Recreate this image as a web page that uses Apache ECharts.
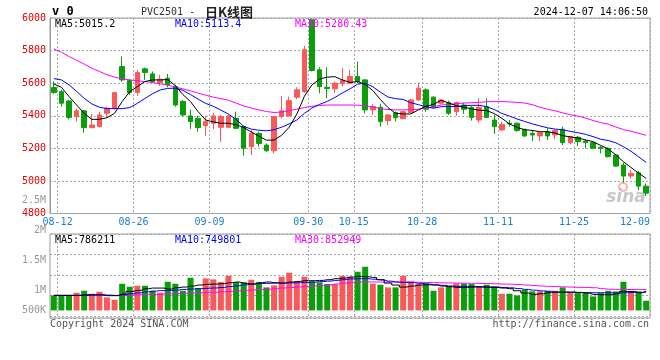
<!DOCTYPE html>
<html><head><meta charset="utf-8">
<script src="https://cdn.jsdelivr.net/npm/echarts@6/dist/echarts.min.js"></script>
<style>html,body{margin:0;padding:0;background:#fff}#c{width:660px;height:360px}</style>
</head><body><div id="c"></div>
<script>
// ---------- data ----------
const dates = ['08-12','08-13','08-14','08-15','08-16','08-19','08-20','08-21','08-22','08-23',
'08-26','08-27','08-28','08-29','08-30','09-02','09-03','09-04','09-05','09-06',
'09-09','09-10','09-11','09-12','09-13','09-18','09-19','09-20','09-23','09-24',
'09-25','09-26','09-27','09-30','10-08','10-09','10-10','10-11','10-14','10-15',
'10-16','10-17','10-18','10-21','10-22','10-23','10-24','10-25','10-28','10-29',
'10-30','10-31','11-01','11-04','11-05','11-06','11-07','11-08','11-11','11-12',
'11-13','11-14','11-15','11-18','11-19','11-20','11-21','11-22','11-25','11-26',
'11-27','11-28','11-29','12-02','12-03','12-04','12-05','12-06','12-09'];
const opens = [5573,5548,5491,5395,5430,5327,5333,5415,5446,5702,
5616,5542,5688,5657,5604,5630,5579,5487,5399,5384,
5339,5354,5329,5329,5384,5333,5210,5292,5220,5185,
5395,5399,5514,5548,5989,5682,5575,5565,5596,5600,
5641,5620,5436,5452,5370,5419,5382,5419,5497,5559,
5514,5477,5481,5425,5466,5450,5374,5456,5374,5313,
5354,5354,5317,5292,5276,5302,5282,5317,5235,5268,
5245,5235,5206,5200,5159,5097,5030,5050,4968];
const closes = [5542,5477,5390,5430,5327,5343,5405,5446,5542,5620,
5542,5665,5665,5610,5624,5590,5466,5405,5364,5327,
5364,5399,5395,5399,5323,5200,5292,5230,5185,5395,
5430,5493,5559,5805,5678,5579,5567,5600,5616,5641,
5610,5436,5456,5364,5405,5388,5425,5497,5569,5440,
5452,5497,5415,5481,5440,5390,5452,5390,5333,5347,
5350,5309,5276,5282,5296,5276,5309,5235,5272,5241,
5235,5200,5200,5149,5091,5030,5046,4968,4925];
const lows = [5534,5456,5378,5364,5296,5323,5329,5395,5436,5610,
5528,5522,5620,5600,5583,5575,5456,5395,5319,5302,
5276,5317,5241,5323,5317,5155,5159,5210,5179,5169,
5384,5395,5501,5542,5672,5538,5507,5540,5580,5594,
5600,5415,5405,5333,5343,5364,5378,5415,5491,5425,
5446,5470,5405,5399,5411,5370,5358,5384,5288,5306,
5333,5302,5270,5245,5245,5251,5255,5220,5225,5214,
5200,5195,5169,5144,5087,4984,5015,4943,4907];
const highs = [5610,5559,5495,5444,5436,5411,5425,5456,5546,5764,
5624,5682,5696,5672,5651,5657,5590,5497,5436,5399,
5399,5419,5405,5405,5425,5340,5313,5302,5230,5399,
5522,5518,5575,5829,5995,5698,5698,5610,5692,5682,
5733,5625,5473,5473,5411,5425,5431,5503,5604,5569,
5520,5501,5493,5487,5481,5460,5507,5507,5405,5364,
5374,5358,5321,5313,5300,5323,5317,5333,5276,5276,
5251,5241,5214,5206,5165,5112,5067,5060,4984];
const ma5 = [5595,5575,5518,5466,5415,5378,5378,5388,5415,5487,
5548,5579,5610,5620,5620,5622,5585,5530,5487,5425,
5374,5362,5354,5354,5345,5328,5300,5275,5250,5251,
5280,5330,5410,5520,5590,5625,5637,5640,5620,5605,
5610,5592,5555,5500,5450,5415,5411,5411,5436,5458,
5470,5495,5478,5462,5452,5442,5434,5432,5413,5384,
5350,5328,5314,5310,5302,5302,5294,5278,5270,5264,
5252,5241,5218,5196,5160,5118,5082,5048,5015.2];
const ma10 = [5628,5620,5590,5550,5507,5473,5452,5444,5444,5444,
5450,5476,5506,5535,5558,5568,5569,5556,5530,5502,
5476,5458,5435,5410,5378,5335,5318,5311,5308,5314,
5330,5350,5374,5415,5448,5470,5488,5512,5540,5565,
5594,5600,5578,5545,5515,5505,5500,5480,5468,5455,
5446,5456,5456,5457,5461,5464,5464,5456,5438,5414,
5398,5380,5365,5350,5338,5326,5318,5314,5304,5296,
5286,5272,5256,5248,5234,5210,5182,5148,5113.4];
const ma30 = [5810,5790,5764,5740,5717,5692,5672,5652,5637,5627,
5620,5615,5610,5604,5596,5588,5576,5565,5553,5539,
5526,5514,5505,5495,5478,5460,5447,5436,5426,5420,
5423,5432,5440,5450,5458,5463,5466,5466,5466,5466,
5465,5462,5454,5444,5438,5436,5436,5437,5440,5448,
5455,5466,5470,5474,5478,5480,5482,5486,5487,5487,
5485,5482,5478,5468,5452,5440,5430,5418,5406,5398,
5386,5371,5358,5348,5331,5315,5305,5292,5280.43];
const volumes = [615000,615000,615000,725000,806000,683000,765000,533000,437000,1093000,
970000,1011000,1011000,806000,725000,1175000,1093000,806000,1339000,915000,
1312000,1271000,1161000,1421000,1161000,1161000,1257000,1161000,943000,1025000,
1380000,1544000,1161000,1380000,1189000,1150000,1080000,1080000,1421000,1380000,
1585000,1790000,1093000,1052000,943000,943000,1421000,1189000,1080000,1107000,
806000,943000,984000,1107000,1107000,1080000,984000,1052000,984000,683000,
683000,615000,847000,779000,779000,806000,806000,943000,710000,710000,
710000,574000,710000,806000,779000,1175000,738000,779000,396000];
const volMa5 = [615000,615000,615000,615000,642000,642000,642000,604000,604000,670000,
779000,820000,889000,916000,916000,875000,930000,957000,998000,1039000,
1066000,1080000,1094000,1135000,1162000,1107000,1080000,1135000,1162000,1135000,
1121000,1162000,1189000,1217000,1217000,1230000,1258000,1299000,1326000,1367000,
1394000,1380000,1353000,1258000,1121000,1039000,957000,998000,1039000,1052000,
1039000,998000,971000,943000,943000,957000,957000,943000,943000,916000,
889000,806000,711000,656000,683000,725000,752000,752000,752000,738000,
711000,656000,642000,642000,683000,779000,779000,725000,786211];
const volMa10 = [615000,615000,615000,615000,615000,630000,635000,628000,615000,640000,
690000,720000,760000,790000,810000,820000,835000,860000,875000,890000,
905000,920000,940000,980000,1010000,1050000,1080000,1100000,1110000,1120000,
1120000,1125000,1135000,1150000,1160000,1180000,1200000,1230000,1260000,1290000,
1300000,1300000,1280000,1250000,1200000,1165000,1150000,1140000,1110000,1080000,
1050000,1030000,1000000,985000,985000,985000,975000,965000,955000,940000,
925000,895000,860000,830000,800000,780000,745000,740000,740000,735000,
730000,725000,725000,720000,715000,725000,735000,740000,749801];
const volMa30 = [618000,618000,617000,617000,616000,616000,616000,612000,612000,615000,
625000,640000,650000,660000,668000,680000,690000,700000,712000,720000,
730000,745000,760000,780000,800000,820000,840000,855000,870000,890000,
920000,940000,960000,985000,1000000,1020000,1045000,1080000,1120000,1150000,
1160000,1165000,1165000,1162000,1160000,1160000,1158000,1155000,1150000,1145000,
1140000,1130000,1125000,1120000,1115000,1110000,1105000,1100000,1090000,1080000,
1075000,1060000,1040000,1020000,1000000,985000,975000,965000,955000,945000,
940000,930000,890000,870000,862000,860000,858000,855000,852949];
const xTickLabels = ['08-12','08-26','09-09','09-30','10-15','10-28','11-11','11-25','12-09'];
const priceMin = 4800, priceMax = 6000, priceStep = 200;
const volAxisLabels = ['2M','1.5M','1M','500K'];
const strayLabel = '2.5M';

// ---------- styling ----------
const FONT = '"DejaVu Sans Mono", "Liberation Mono", monospace';
const UP = '#f65a5a', DOWN = '#0a9e0a';
const dotted = {show:true, lineStyle:{color:'#a8a8a8', type:[2,2], width:1}};
const bounds = [''].concat(dates);           // band boundaries: k = right edge of candle k-1
const tickSet = new Set(xTickLabels);
const showTick = (i, v) => tickSet.has(v);
const candleData = dates.map((d,i)=>[opens[i], closes[i], lows[i], highs[i]]);
const volData = volumes.map((v,i)=>({value:v, itemStyle:{color: closes[i] >= opens[i] ? UP : DOWN}}));
const last = a => a[a.length-1];

const chart = echarts.init(document.getElementById('c'), null, {renderer:'canvas'});
const gridBase = {left:50, right:10, show:true, borderColor:'#9a9a9a', borderWidth:1,
  backgroundColor:'transparent', containLabel:false, outerBoundsMode:'none'};
const hiddenCat = (gi, data, bg, pos) => ({type:'category', gridIndex:gi, data, boundaryGap:bg, position:pos,
  axisLine:{show:false}, axisTick:{show:false}, axisLabel:{show:false}, splitLine:{show:false}});
const txt = (x, y, text, fill, opts={}) => ({type:'text', x, y, silent:true, z:100,
  style:Object.assign({text, fill, font:'10px ' + FONT, align:'left', verticalAlign:'middle'}, opts)});

chart.setOption({
  animation:false,
  backgroundColor:'#fff',
  grid:[Object.assign({top:18, height:195.5}, gridBase), Object.assign({top:234, height:84}, gridBase)],
  xAxis:[
    hiddenCat(0, dates, true, 'top'),
    Object.assign(hiddenCat(0, bounds, false, 'bottom'), {
      axisLabel:{show:true, interval:showTick, color:'#1a7fd4', fontFamily:FONT, fontSize:10, margin:4, alignMaxLabel:'right'},
      splitLine:Object.assign({interval:showTick}, dotted)}),
    hiddenCat(1, dates, true, 'top'),
    Object.assign(hiddenCat(1, bounds, false, 'bottom'), {splitLine:Object.assign({interval:showTick}, dotted)})
  ],
  yAxis:[
    {type:'value', gridIndex:0, min:priceMin, max:priceMax, interval:priceStep, position:'left',
      axisLine:{show:true, lineStyle:{color:'#999', width:1}}, axisTick:{show:false},
      axisLabel:{color:'#e60000', fontFamily:FONT, fontSize:10, margin:4, formatter:v => String(v)}, splitLine:dotted},
    {type:'value', gridIndex:1, min:-310000, max:3130000, show:false, splitLine:{show:false}},
    {type:'value', gridIndex:1, inverse:true, min:0, max:4.1, interval:1, position:'right',
      axisLine:{show:false}, axisTick:{show:false}, axisLabel:{show:false}, splitLine:dotted}
  ],
  series:[
    {type:'candlestick', xAxisIndex:0, yAxisIndex:0, data:candleData, barWidth:5, silent:true,
      itemStyle:{color:UP, color0:DOWN, borderColor:UP, borderColor0:DOWN, borderWidth:1}},
    {type:'line', xAxisIndex:0, yAxisIndex:0, data:ma30, symbol:'none', silent:true, lineStyle:{color:'#ff00ff', width:1}},
    {type:'line', xAxisIndex:0, yAxisIndex:0, data:ma10, symbol:'none', silent:true, lineStyle:{color:'#0000ff', width:1}},
    {type:'line', xAxisIndex:0, yAxisIndex:0, data:ma5, symbol:'none', silent:true, lineStyle:{color:'#000000', width:1}},
    {type:'bar', xAxisIndex:2, yAxisIndex:1, data:volData, barWidth:6, silent:true},
    {type:'line', xAxisIndex:2, yAxisIndex:1, data:volMa30, step:'middle', symbol:'none', silent:true, lineStyle:{color:'#ff00ff', width:1}},
    {type:'line', xAxisIndex:2, yAxisIndex:1, data:volMa10, step:'middle', symbol:'none', silent:true, lineStyle:{color:'#0000ff', width:1}},
    {type:'line', xAxisIndex:2, yAxisIndex:1, data:volMa5, step:'middle', symbol:'none', silent:true, lineStyle:{color:'#000000', width:1}}
  ],
  graphic:[
    txt(52, 12, 'v 0', '#000', {font:'bold 12px ' + FONT}),
    txt(141, 12, 'PVC2501 -', '#333'),
    txt(205, 12, '日K线图', '#222', {font:'bold 13px "Noto Sans CJK SC"'}),
    txt(648, 12, '2024-12-07 14:06:50', '#000', {align:'right'}),
    txt(55, 24, 'MA5:' + last(ma5), '#000'),
    txt(175, 24, 'MA10:' + last(ma10), '#0000ff'),
    txt(295, 24, 'MA30:' + last(ma30), '#ff00ff'),
    txt(55, 240, 'MA5:' + last(volMa5), '#000'),
    txt(175, 240, 'MA10:' + last(volMa10), '#0000ff'),
    txt(295, 240, 'MA30:' + last(volMa30), '#ff00ff'),
    txt(46, 200.5, strayLabel, '#999', {align:'right'}),
    txt(46, 230, volAxisLabels[0], '#999', {align:'right'}),
    txt(46, 260, volAxisLabels[1], '#999', {align:'right'}),
    txt(46, 290.7, volAxisLabels[2], '#999', {align:'right'}),
    txt(46, 310.7, volAxisLabels[3], '#999', {align:'right'}),
    txt(50, 324, 'Copyright 2024 SINA.COM', '#555'),
    txt(649, 324, 'http://finance.sina.com.cn', '#555', {align:'right'}),
    {type:'circle', shape:{cx:623, cy:187, r:4}, silent:true, z:90, style:{fill:'none', stroke:'#f3a3a3', lineWidth:2, opacity:0.8}},
    txt(626, 198, 'sina', '#bdbdbd', {align:'center', font:'italic bold 17px "DejaVu Sans"', opacity:0.85})
  ]
});
</script></body></html>
